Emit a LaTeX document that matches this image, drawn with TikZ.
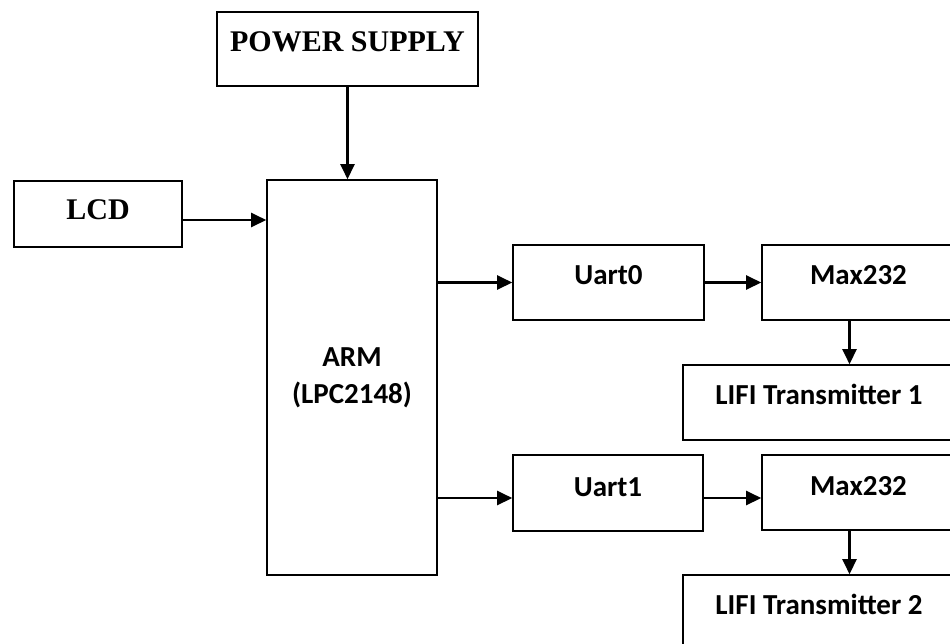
\documentclass[tikz,border=0pt]{standalone}
\usepackage{fontspec}
\setmainfont{Liberation Serif}
\newfontfamily\calibri{Carlito}
\usetikzlibrary{arrows.meta,positioning,calc}

\begin{document}
\begin{tikzpicture}[
    x=1pt, y=-1pt,
    box/.style={draw, line width=1.6pt, inner sep=0pt, align=center},
    serifbox/.style={box, font=\fontsize{30}{36}\selectfont\bfseries},
    sansbox/.style={box, font=\calibri\fontsize{29}{37}\selectfont\bfseries},
    arr/.style={-{Triangle[length=15pt, width=14pt]}, line width=2.4pt},
  ]
  \useasboundingbox (0,0) rectangle (950,643);
  \clip (0,0) rectangle (950,643);
  \fill[white] (0,0) rectangle (950,643);

  \node[serifbox, minimum width=261pt, minimum height=74pt, text depth=14pt] (power) at (347.5, 49) {POWER SUPPLY};
  \node[serifbox, minimum width=168pt, minimum height=66pt, text depth=8pt] (lcd) at (98, 214) {LCD};
  \node[sansbox, minimum width=170pt, minimum height=395pt] (arm) at (352, 377.5) {ARM\\(LPC2148)};

  \node[sansbox, minimum width=191pt, minimum height=75pt, text depth=16pt] (uart0) at (608.5, 282.5) {Uart0};
  \node[sansbox, minimum width=193pt, minimum height=75pt, text depth=15pt] (max0) at (858.5, 282.5) {Max232};
  \node[sansbox, minimum width=272pt, minimum height=75pt, text depth=16pt] (lifi1) at (819, 402.5) {LIFI Transmitter 1};

  \node[sansbox, minimum width=190pt, minimum height=76pt, text depth=12pt] (uart1) at (608, 493) {Uart1};
  \node[sansbox, minimum width=193pt, minimum height=75pt, text depth=14pt] (max1) at (858.5, 492.5) {Max232};
  \node[sansbox, minimum width=272pt, minimum height=75pt, text depth=16pt] (lifi2) at (819, 612.5) {LIFI Transmitter 2};

  % shifted connector end points
  \coordinate (lcdout) at ([yshift=-6pt]lcd.east);
  \coordinate (max0out) at ([xshift=-9pt]max0.south);
  \coordinate (uart1in) at ([yshift=-5pt]uart1.west);
  \coordinate (uart1out) at ([yshift=-5pt]uart1.east);
  \coordinate (max1out) at ([xshift=-9pt]max1.south);

  \draw[arr] (power.south) -- (power.south |- arm.north);
  \draw[arr] (lcdout) -- (arm.west |- lcdout);
  \draw[arr] (arm.east |- uart0.west) -- (uart0.west);
  \draw[arr] (uart0.east) -- (max0.west);
  \draw[arr] (max0out) -- (lifi1.north -| max0out);
  \draw[arr] (arm.east |- uart1in) -- (uart1in);
  \draw[arr] (uart1out) -- (max1.west |- uart1out);
  \draw[arr] (max1out) -- (lifi2.north -| max1out);
\end{tikzpicture}
\end{document}
